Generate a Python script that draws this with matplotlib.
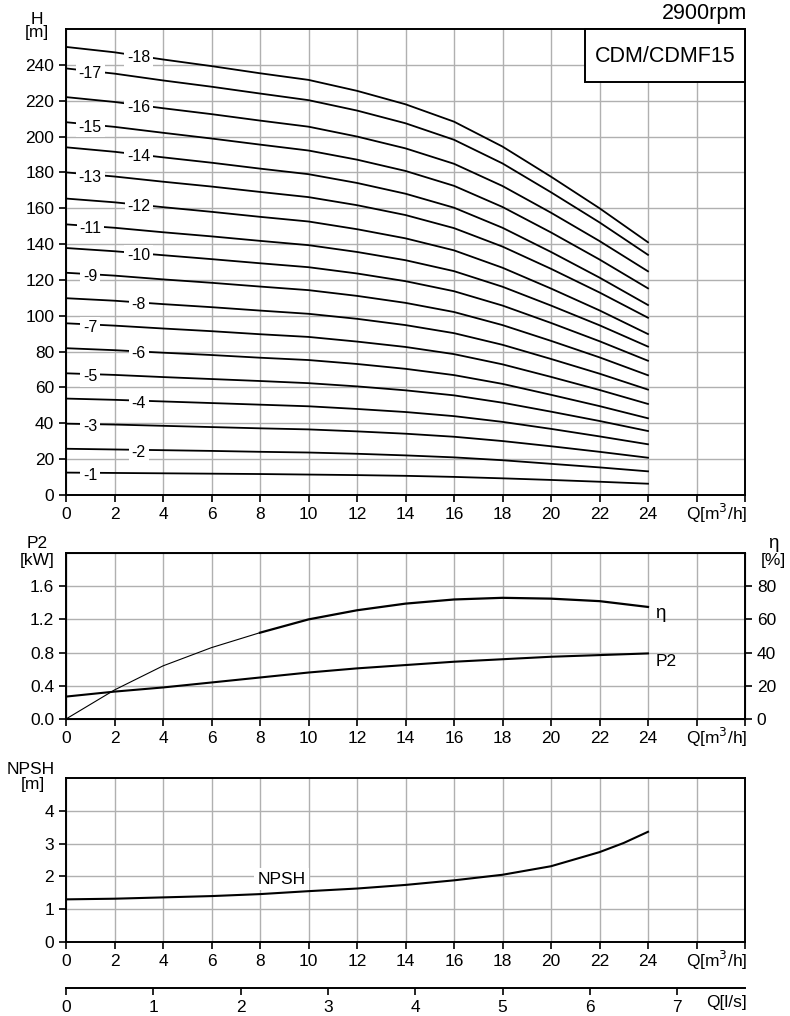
import matplotlib
matplotlib.use("Agg")
import matplotlib.pyplot as plt
from matplotlib.patches import Rectangle

plt.rcParams['font.family'] = ['Liberation Sans', 'DejaVu Sans']

# flow points in m3/h
q = [0, 2, 4, 6, 8, 10, 12, 14, 16, 18, 20, 22, 24]

# head curves per stage count
heads = {
    1: [12.5, 12.3, 12.1, 11.9, 11.7, 11.4, 11.1, 10.7, 10.1, 9.3, 8.4, 7.4, 6.3],
    2: [25.8, 25.4, 25.0, 24.6, 24.1, 23.7, 23.0, 22.1, 21.0, 19.4, 17.4, 15.4, 13.2],
    3: [39.8, 39.3, 38.6, 37.9, 37.2, 36.6, 35.5, 34.2, 32.5, 30.1, 27.2, 24.1, 20.8],
    4: [53.8, 53.1, 52.2, 51.3, 50.4, 49.5, 48.0, 46.3, 44.0, 40.8, 36.9, 32.7, 28.3],
    5: [67.9, 67.0, 65.8, 64.7, 63.6, 62.4, 60.6, 58.4, 55.6, 51.5, 46.5, 41.3, 35.7],
    6: [81.9, 80.8, 79.4, 78.1, 76.6, 75.3, 73.1, 70.4, 66.9, 62.0, 55.9, 49.6, 42.8],
    7: [95.8, 94.5, 92.9, 91.4, 89.7, 88.2, 85.6, 82.6, 78.6, 72.9, 65.9, 58.6, 50.8],
    8: [109.8, 108.4, 106.5, 104.8, 102.9, 101.1, 98.3, 94.8, 90.3, 83.8, 75.9, 67.7, 58.8],
    9: [124.0, 122.4, 120.3, 118.4, 116.3, 114.3, 111.1, 107.2, 102.1, 94.8, 86.0, 76.8, 66.8],
    10: [137.8, 136.0, 133.8, 131.6, 129.3, 127.1, 123.6, 119.3, 113.7, 105.7, 96.0, 85.8, 74.9],
    11: [151.0, 149.1, 146.6, 144.3, 141.8, 139.4, 135.6, 131.0, 124.9, 116.2, 105.7, 94.7, 82.8],
    12: [165.4, 163.3, 160.6, 158.0, 155.2, 152.6, 148.3, 143.2, 136.5, 126.8, 115.2, 103.0, 89.8],
    13: [180.0, 177.7, 174.8, 172.1, 169.1, 166.2, 161.7, 156.2, 148.9, 138.6, 126.2, 113.0, 98.9],
    14: [194.0, 191.5, 188.4, 185.4, 182.1, 179.0, 174.1, 168.1, 160.3, 149.1, 135.6, 121.3, 106.0],
    15: [208.0, 205.4, 202.1, 198.9, 195.5, 192.2, 187.1, 180.8, 172.5, 160.7, 146.5, 131.4, 115.3],
    16: [222.0, 219.3, 215.8, 212.5, 208.9, 205.5, 200.0, 193.4, 184.8, 172.4, 157.5, 141.7, 124.8],
    17: [238.0, 235.1, 231.3, 227.8, 224.0, 220.3, 214.5, 207.4, 198.2, 185.0, 168.9, 152.1, 134.0],
    18: [250.0, 247.0, 243.0, 239.3, 235.3, 231.6, 225.5, 218.0, 208.3, 194.4, 177.6, 160.0, 141.0],
}

p2 = [0.27, 0.33, 0.38, 0.44, 0.50, 0.56, 0.61, 0.65, 0.69, 0.72, 0.75, 0.77, 0.79]
eta = [0, 17.5, 32, 43, 52, 60, 65.5, 69.5, 72, 73, 72.5, 71, 67.5]

q_npsh = [0, 2, 4, 6, 8, 10, 12, 14, 16, 18, 20, 22, 23, 24]
npsh = [1.30, 1.32, 1.36, 1.40, 1.46, 1.55, 1.63, 1.74, 1.88, 2.05, 2.31, 2.74, 3.02, 3.36]

xticks = list(range(0, 29, 2))
xlabels = [str(v) if v <= 24 else '' for v in xticks]

W, H = 790, 1016
FS = 12.5
GRID = '#b0b0b0'


def frac(x0, y0, x1, y1):
    return [x0 / W, 1 - y1 / H, (x1 - x0) / W, (y1 - y0) / H]


def ftext(x, y, s, **kw):
    # text placed by pixel position in the figure
    kw.setdefault('fontsize', FS)
    kw.setdefault('ha', 'center')
    kw.setdefault('va', 'center')
    fig.text(x / W, 1 - y / H, s, **kw)


def style(ax, qy):
    ax.set_xlim(0, 28)
    ax.set_xticks(xticks)
    ax.set_xticklabels(xlabels)
    ax.grid(True, color=GRID, lw=1.0)
    ax.set_axisbelow(True)
    for s in ax.spines.values():
        s.set_linewidth(1.4)
    ax.tick_params(direction='out', length=5, width=1.2, labelsize=FS, pad=3.5)
    ftext(747, qy, 'Q[m$^3$/h]', ha='right')


fig = plt.figure(figsize=(W / 100, H / 100), dpi=100)

# head curves
ax1 = fig.add_axes(frac(66, 29, 745, 495))
style(ax1, 513)
ax1.set_ylim(0, 260)
ax1.set_yticks(range(0, 241, 20))
for n, h in heads.items():
    ax1.plot(q, h, color='black', lw=1.3, zorder=3)
    qx = 3.0 if n % 2 == 0 else 1.0
    y = h[0] + (h[1] - h[0]) * qx / 2 - 1.5
    ax1.text(qx, y, '-%d' % n, ha='center', va='center', fontsize=11.5, zorder=4,
             bbox=dict(facecolor='white', edgecolor='none', pad=2.0))
ftext(37, 19, 'H')
ftext(37, 33, '[m]')
ftext(747, 13, '2900rpm', ha='right', fontsize=15.5)
ax1.add_patch(Rectangle(((585 - 66) / 679, (495 - 82) / 466), (745 - 585) / 679, (82 - 29) / 466,
                        transform=ax1.transAxes, facecolor='white', edgecolor='black',
                        lw=1.4, zorder=5, clip_on=False))
ftext(665, 56, 'CDM/CDMF15', fontsize=15.5, zorder=6)

# power and efficiency
ax2 = fig.add_axes(frac(66, 553, 745, 719))
style(ax2, 737)
ax2.set_ylim(0, 2.0)
ax2.set_yticks([0, 0.4, 0.8, 1.2, 1.6])
ax2.set_yticklabels(['0.0', '0.4', '0.8', '1.2', '1.6'])
ax2.plot(q, p2, color='black', lw=1.5, zorder=3)
ax2b = ax2.twinx()
ax2b.set_ylim(0, 100)
ax2b.set_yticks([0, 20, 40, 60, 80])
ax2b.tick_params(direction='out', length=5, width=1.2, labelsize=FS, pad=3.5)
ax2b.plot(q[:5], eta[:5], color='black', lw=0.8)
ax2b.plot(q[4:], eta[4:], color='black', lw=1.6)
ax2.text(24.3, 1.27, 'η', fontsize=13.5, ha='left', va='center')
ax2.text(24.3, 0.69, 'P2', fontsize=FS, ha='left', va='center')
ftext(37, 544, 'P2')
ftext(37, 561, '[kW]')
ftext(773, 543, 'η', fontsize=13.5)
ftext(773, 561, '[%]')

# NPSH
ax3 = fig.add_axes(frac(66, 778, 745, 942))
style(ax3, 960)
ax3.set_ylim(0, 5)
ax3.set_yticks(range(0, 5))
ax3.plot(q_npsh, npsh, color='black', lw=1.5, zorder=3)
ax3.text(8.9, 1.92, 'NPSH', fontsize=FS, ha='center', va='center', zorder=4,
         bbox=dict(facecolor='white', edgecolor='none', pad=2.5))
ftext(31, 769, 'NPSH')
ftext(33, 785, '[m]')

# flow in l/s
ax4 = fig.add_axes(frac(66, 987, 745, 988))
ax4.set_xlim(0, 28 / 3.6)
ax4.set_yticks([])
ax4.set_xticks(range(0, 8))
for s in ['top', 'left', 'right']:
    ax4.spines[s].set_visible(False)
ax4.spines['bottom'].set_linewidth(1.4)
ax4.tick_params(direction='out', length=5, width=1.2, labelsize=FS, pad=3.5)
ftext(747, 1003, 'Q[l/s]', ha='right')

fig.savefig('out.png', dpi=100)
